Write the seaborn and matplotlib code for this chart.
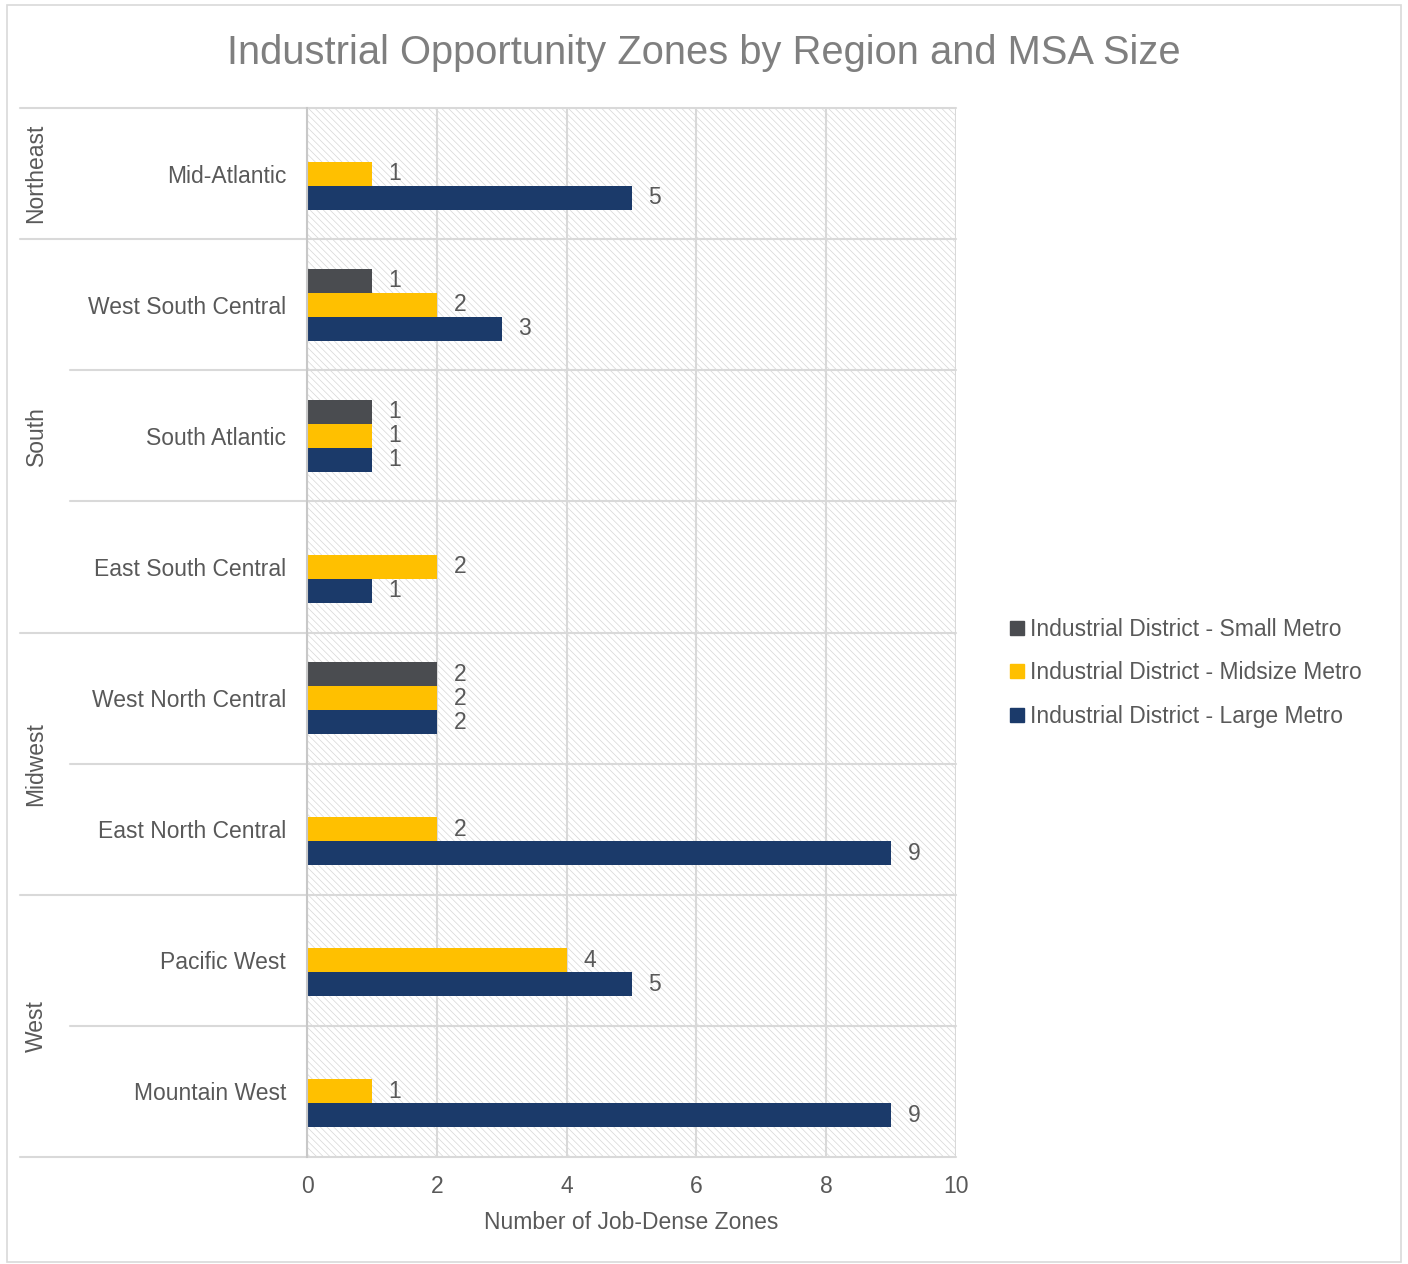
import numpy as np
import pandas as pd
import matplotlib
matplotlib.use("Agg")
import matplotlib.pyplot as plt
from matplotlib.patches import Rectangle
from matplotlib.lines import Line2D
import seaborn as sns

# ---- data ----
subregions = ["Mid-Atlantic", "West South Central", "South Atlantic", "East South Central",
              "West North Central", "East North Central", "Pacific West", "Mountain West"]
regions = ["Northeast", "South", "South", "South", "Midwest", "Midwest", "West", "West"]
small_metro = [np.nan, 1, 1, np.nan, 2, np.nan, np.nan, np.nan]
midsize_metro = [1, 2, 1, 2, 2, 2, 4, 1]
large_metro = [5, 3, 1, 1, 2, 9, 5, 9]
series_names = ["Industrial District - Small Metro",
                "Industrial District - Midsize Metro",
                "Industrial District - Large Metro"]
series_colors = ["#4a4c50", "#ffc000", "#1b3a6a"]
x_ticks = [0, 2, 4, 6, 8, 10]

rows = []
for name, vals in zip(series_names, [small_metro, midsize_metro, large_metro]):
    for sub, v in zip(subregions, vals):
        if not np.isnan(v):
            rows.append({"sub": sub, "series": name, "value": v})
df = pd.DataFrame(rows)

sns.set_theme(style="white")
plt.rcParams["font.family"] = ["Liberation Sans", "DejaVu Sans"]
plt.rcParams["hatch.linewidth"] = 0.5
TXT = "#595959"
FS = 16.5

W, H = 1408, 1264
fig = plt.figure(figsize=(W / 100, H / 100), dpi=100)
L, R, T, B = 307, 956, 108, 1157
ax = fig.add_axes([L / W, 1 - B / H, (R - L) / W, (B - T) / H])

# hatched background
ax.add_patch(Rectangle((0, 0), 1, 1, transform=ax.transAxes, facecolor="white",
                       edgecolor="#d6d6d6", hatch="\\\\\\\\\\", linewidth=0, zorder=0))

sns.barplot(data=df, y="sub", x="value", hue="series", order=subregions,
            hue_order=series_names, palette=series_colors, saturation=1,
            width=0.55, errorbar=None, ax=ax, zorder=3, legend=False, linewidth=0)

for cont in ax.containers:
    ax.bar_label(cont, padding=12, fontsize=FS, color=TXT, fmt="%g")

ax.set_xlim(0, 10)
ax.set_ylim(len(subregions) - 0.5, -0.5)
ax.set_xticks(x_ticks)
ax.set_xticklabels([str(t) for t in x_ticks], fontsize=FS, color=TXT)
ax.tick_params(axis="x", length=0, pad=13)
ax.tick_params(axis="y", length=0, pad=15, labelsize=FS, labelcolor=TXT)
ax.set_ylabel("")
ax.set_xlabel("Number of Job-Dense Zones", fontsize=FS, color=TXT, labelpad=9)
for x in x_ticks:
    ax.axvline(x, color="#d9d9d9", lw=1.5, zorder=1)
for s in ["top", "right", "bottom"]:
    ax.spines[s].set_visible(False)
ax.spines["left"].set_color("#c8c8c8")
ax.spines["left"].set_linewidth(1.5)
ax.spines["left"].set_zorder(4)

# category separator lines & region labels
ytr = ax.get_yaxis_transform()
def xf(px):
    return (px - L) / (R - L)
bounds = [i - 0.5 for i in range(len(subregions) + 1)]
group_starts = [0]
for i in range(1, len(regions)):
    if regions[i] != regions[i - 1]:
        group_starts.append(i)
group_starts.append(len(regions))
for b_i, yb in enumerate(bounds):
    full = b_i in group_starts
    x0 = xf(20) if full else xf(70)
    ax.add_line(Line2D([x0, 1], [yb, yb], transform=ytr, color="#d9d9d9",
                       lw=1.5, clip_on=False, zorder=1))
for gs, ge in zip(group_starts[:-1], group_starts[1:]):
    yc = (gs + ge - 1) / 2
    ax.text(xf(36), yc, regions[gs], transform=ytr, rotation=90, ha="center",
            va="center", fontsize=FS, color=TXT)

# legend
handles = [Line2D([], [], marker="s", ls="", markersize=10.5, color=c) for c in series_colors]
fig.legend(handles, series_names, loc="center left",
           bbox_to_anchor=(985 / W, 1 - 673 / H), frameon=False, fontsize=FS,
           labelcolor=TXT, handletextpad=0.05, labelspacing=0.88, handlelength=1.0)

fig.text(0.5, 1 - 53 / H, "Industrial Opportunity Zones by Region and MSA Size",
         ha="center", va="center", fontsize=28.7, color="#7f7f7f")

fig.patches.append(Rectangle((7 / W, 1 - 1262 / H), (1401 - 7) / W, (1262 - 5) / H,
                             transform=fig.transFigure, fill=False,
                             edgecolor="#d9d9d9", lw=1.2))

fig.savefig("out.png", dpi=100)
